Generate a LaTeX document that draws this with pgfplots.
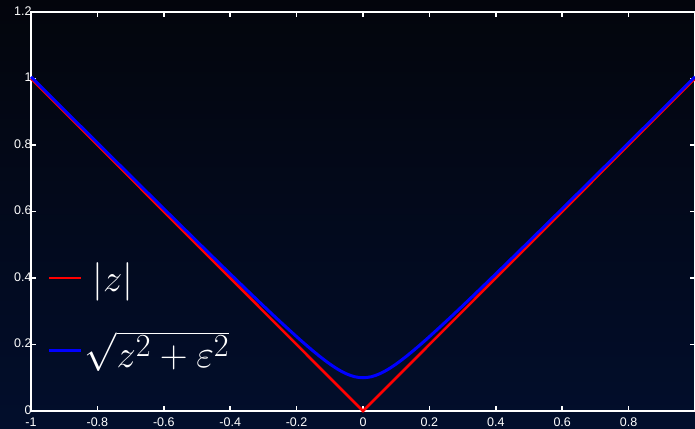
\documentclass[border=0pt]{standalone}
\usepackage{graphicx}
\usepackage{pgfplots}
\pgfplotsset{compat=1.18}
\usepackage{fontspec}
\setmainfont{Liberation Sans}
\definecolor{bgtop}{RGB}{3,5,12}
\definecolor{bgbot}{RGB}{2,14,44}
\definecolor{myred}{RGB}{255,0,0}
\definecolor{myblue}{RGB}{0,0,255}
\begin{document}
\begin{tikzpicture}[x=1pt,y=1pt]
\shade[top color=bgtop,bottom color=bgbot] (0,0) rectangle (695,428);
\useasboundingbox (0,0) rectangle (695,428);
\begin{axis}[
  at={(31pt,17pt)}, anchor=south west,
  scale only axis, width=664pt, height=399pt,
  xmin=-1, xmax=1, ymin=0, ymax=1.2,
  xtick={-1,-0.8,-0.6,-0.4,-0.2,0,0.2,0.4,0.6,0.8},
  ytick={0,0.2,0.4,0.6,0.8,1,1.2},
  xticklabels={-1,-0.8,-0.6,-0.4,-0.2,0,0.2,0.4,0.6,0.8},
  yticklabels={0,0.2,0.4,0.6,0.8,1,1.2},
  tick align=inside, major tick length=5pt,
  axis line style={white, line width=2.2pt},
  every tick/.style={white, line width=1.5pt},
  tick label style={text=white, font=\fontsize{12.5}{13}\selectfont},
  xticklabel style={yshift=-3pt},
  yticklabel style={xshift=4pt, yshift=1pt},
  /pgf/number format/assume math mode=true,
  clip=false,
  legend style={at={(axis cs:-0.96,0.113)}, anchor=south west, draw=none, fill=none,
    text=white, font=\fontsize{24.88}{30}\selectfont, row sep=34pt,
    cells={anchor=west}},
  legend cell align=left,
  legend image code/.code={\draw[#1] (0pt,0pt) -- (32pt,0pt);},
]
\addplot[myred, line width=2.6pt] coordinates {(-1,1) (0,0) (1,1)};
\addlegendentry{\hspace{8pt}\scalebox{1.55}{$\left|z\right|$}}
\addplot[myblue, line width=3pt, smooth] coordinates {
(-1,1.004988) (-0.9,0.905539) (-0.8,0.806226) (-0.7,0.707107) (-0.6,0.608276)
(-0.5,0.509902) (-0.45,0.460977) (-0.4,0.412311) (-0.35,0.364005) (-0.3,0.316228)
(-0.25,0.269258) (-0.2,0.223607) (-0.175,0.201556) (-0.15,0.180278) (-0.125,0.160078)
(-0.1,0.141421) (-0.075,0.125) (-0.05,0.111803) (-0.025,0.103078) (0,0.1)
(0.025,0.103078) (0.05,0.111803) (0.075,0.125) (0.1,0.141421) (0.125,0.160078)
(0.15,0.180278) (0.175,0.201556) (0.2,0.223607) (0.25,0.269258) (0.3,0.316228)
(0.35,0.364005) (0.4,0.412311) (0.45,0.460977) (0.5,0.509902) (0.6,0.608276)
(0.7,0.707107) (0.8,0.806226) (0.9,0.905539) (1,1.004988)};
\addlegendentry{\scalebox{1.55}{$\sqrt{z^2+\varepsilon^2}$}}
\end{axis}
\end{tikzpicture}
\end{document}
